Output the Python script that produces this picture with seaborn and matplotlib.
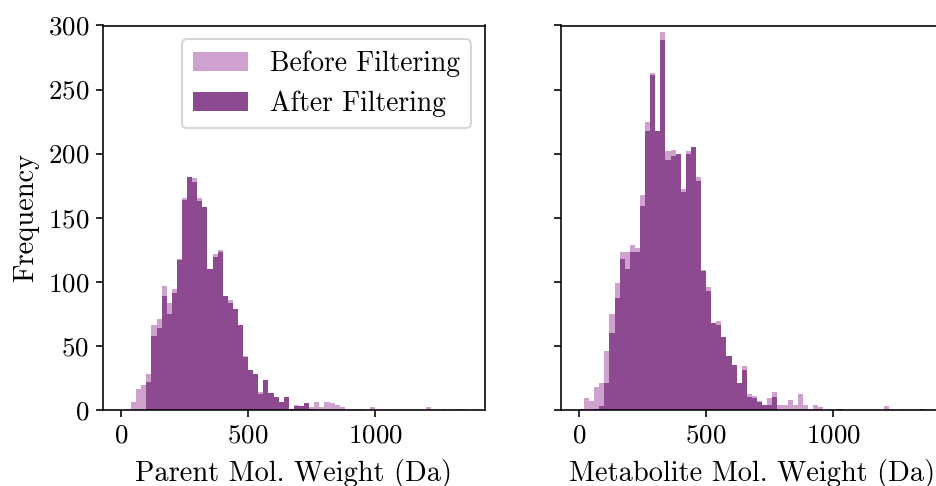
import numpy as np
import pandas as pd
import matplotlib
matplotlib.use("Agg")
import matplotlib.pyplot as plt
import seaborn as sns

# ---- data (bin counts, 20 Da bins from 0 to 1360) ----
mw_bin_edges = list(range(0, 1361, 20))

parent_before = [0, 1, 6, 16, 19, 28, 66, 71, 97, 83,
                 94, 118, 165, 182, 181, 165, 158, 110, 122, 125,
                 89, 86, 79, 66, 42, 31, 28, 14, 23, 13,
                 10, 6, 10, 1, 4, 3, 5, 2, 6, 2,
                 6, 5, 4, 2, 1, 1, 1, 1, 0, 2,
                 0, 0, 1, 0, 0, 0, 0, 0, 0, 0,
                 2, 0, 0, 1, 0, 0, 1, 1]
parent_after = [0, 0, 0, 0, 0, 22, 58, 64, 89, 75,
                91, 117, 164, 182, 178, 163, 158, 110, 119, 123,
                89, 83, 79, 66, 41, 31, 28, 12, 23, 13,
                10, 6, 10, 1, 3, 3, 5, 1, 0, 0,
                0, 0, 0, 0, 0, 0, 0, 0, 0, 0,
                0, 0, 0, 0, 0, 0, 0, 0, 0, 0,
                0, 0, 0, 0, 0, 0, 0, 0]
metab_before = [1, 9, 7, 18, 21, 46, 75, 99, 123, 123,
                129, 126, 168, 225, 263, 218, 295, 202, 203, 200,
                172, 202, 205, 182, 109, 96, 68, 69, 57, 42,
                35, 21, 34, 12, 11, 7, 4, 9, 14, 4,
                4, 8, 4, 12, 4, 1, 4, 2, 0, 1,
                0, 1, 0, 0, 0, 0, 0, 0, 0, 0,
                3, 1, 0, 1, 0, 0, 0, 1]
metab_after = [1, 0, 0, 1, 3, 21, 60, 87, 118, 110,
               123, 123, 159, 218, 261, 218, 289, 195, 198, 200,
               170, 200, 205, 179, 108, 93, 68, 66, 57, 42,
               35, 21, 31, 10, 9, 6, 4, 4, 10, 0,
               0, 0, 0, 0, 0, 0, 0, 0, 0, 0,
               0, 1, 0, 0, 0, 0, 0, 0, 0, 0,
               0, 0, 0, 0, 0, 0, 0, 1]

series_labels = ["Before Filtering", "After Filtering"]
x_labels = ["Parent Mol. Weight (Da)", "Metabolite Mol. Weight (Da)"]
y_label = "Frequency"
y_ticks = [0, 50, 100, 150, 200, 250, 300]
x_ticks = [0, 500, 1000]

# ---- style ----
plt.rcParams["font.family"] = ["cmr10", "DejaVu Serif"]
plt.rcParams["mathtext.fontset"] = "cm"
plt.rcParams["axes.formatter.use_mathtext"] = True
plt.rcParams["font.size"] = 13.5
plt.rcParams["axes.unicode_minus"] = False

light_col = "#cea1cf"
dark_col = "#8d4a91"
label_size = 14.2
legend_size = 13.8

centers = [(a + b) / 2 for a, b in zip(mw_bin_edges[:-1], mw_bin_edges[1:])]

fig = plt.figure(figsize=(936 / 144, 486 / 144), dpi=144)
W, H = 936, 486
ax1 = fig.add_axes([102.9 / W, (H - 409.8) / H, 382.0 / W, 384.3 / H])
ax2 = fig.add_axes([560.9 / W, (H - 409.8) / H, 382.0 / W, 384.3 / H], sharey=ax1)

panels = [(ax1, parent_before, parent_after, x_labels[0]),
          (ax2, metab_before, metab_after, x_labels[1])]

for ax, before, after, xl in panels:
    df_b = pd.DataFrame({"mw": centers, "n": before})
    df_a = pd.DataFrame({"mw": centers, "n": after})
    sns.histplot(data=df_b, x="mw", weights="n", bins=mw_bin_edges, color=light_col,
                 alpha=1, linewidth=0, ax=ax, label=series_labels[0])
    sns.histplot(data=df_a, x="mw", weights="n", bins=mw_bin_edges, color=dark_col,
                 alpha=1, linewidth=0, ax=ax, label=series_labels[1])
    ax.set_xlim(-71, 1431)
    ax.set_ylim(0, 300)
    ax.set_xticks(x_ticks)
    ax.set_yticks(y_ticks)
    ax.set_xlabel(xl, fontsize=label_size, labelpad=5.5)
    ax.set_ylabel("")

ax1.set_ylabel(y_label, fontsize=label_size)
ax2.tick_params(labelleft=False)
ax1.legend(loc="upper right", fontsize=legend_size)

fig.savefig("out.png", dpi=144)
